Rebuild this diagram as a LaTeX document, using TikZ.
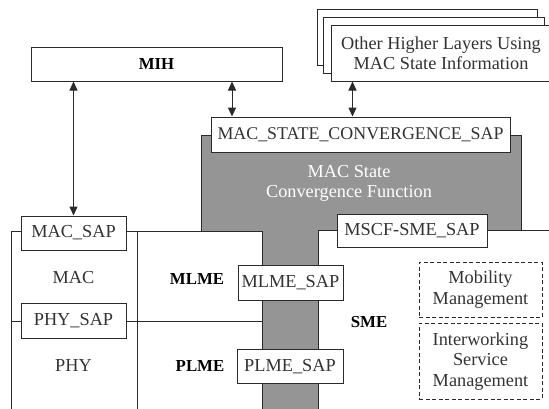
\documentclass[tikz,border=0pt]{standalone}
\usepackage{fontspec}
\setmainfont{Liberation Serif}
\usetikzlibrary{arrows.meta}
\definecolor{gfill}{HTML}{959595}
\definecolor{lncol}{HTML}{2A2A2A}
\definecolor{txcol}{HTML}{333333}
\begin{document}
\begin{tikzpicture}[x=1pt,y=-1pt,
  edge/.style={draw=lncol,line width=1pt},
  box/.style={draw=lncol,line width=1pt,fill=white,inner sep=0pt,text=txcol,font=\fontsize{18.3}{20}\selectfont},
  dbox/.style={draw=lncol,line width=0.9pt,dash pattern=on 4pt off 2.5pt,inner sep=0pt,text=txcol,align=center,font=\fontsize{18.3}{20.5}\selectfont},
  lbl/.style={text=txcol,font=\fontsize{18.3}{20}\selectfont},
  blbl/.style={text=black,font=\bfseries\fontsize{16.8}{20}\selectfont},
  arr/.style={draw=lncol,line width=1pt,{Triangle[length=9pt,width=8pt]}-{Triangle[length=9pt,width=8pt]}}
]
\useasboundingbox (0,0) rectangle (549,408);

% gray MAC State Convergence Function shape
\fill[gfill] (201,135) -- (521,135) -- (521,230) -- (318,230) -- (318,410) -- (262,410) -- (262,231) -- (201,231) -- cycle;
\draw[edge] (262,410) -- (262,231) -- (201,231) -- (201,135) -- (521,135) -- (521,230) -- (318,230) -- (318,410);
\node[text=white,align=center,font=\fontsize{18.3}{20}\selectfont] (mscf) at (349,183) {MAC State\\Convergence Function};

% left layer outlines
\draw[edge] (11,410) -- (11,231) -- (201,231);
\draw[edge] (137,231) -- (137,410);
\draw[edge] (11,321) -- (262,321);
\draw[edge] (521,230) -- (551,230);

% top boxes
\node[box,minimum width=251pt,minimum height=34pt,text=black,font=\bfseries\fontsize{16.8}{20}\selectfont] (mih) at (156.5,64) {MIH};
\draw[box] (317,9.5) rectangle (537.5,65);
\draw[box] (323.5,17.5) rectangle (544,73);
\node[box,minimum width=220pt,minimum height=56pt,align=center] (other) at (441,53) {Other Higher Layers Using\\MAC State Information};

% SAP boxes
\node[box,minimum width=299pt,minimum height=35pt,font=\fontsize{17.9}{20}\selectfont] (conv) at (360.5,134.5) {MAC\_STATE\_CONVERGENCE\_SAP};
\node[box,minimum width=105pt,minimum height=34pt] (macsap) at (73.5,233) {MAC\_SAP};
\node[box,minimum width=105pt,minimum height=35pt] (physap) at (73.5,321) {PHY\_SAP};
\node[box,minimum width=105pt,minimum height=35pt] (mlmesap) at (290.5,282.5) {MLME\_SAP};
\node[box,minimum width=106pt,minimum height=34.5pt] (plmesap) at (290,366.7) {PLME\_SAP};
\node[box,minimum width=150pt,minimum height=33pt] (smesap) at (412,230.5) {MSCF-SME\_SAP};

% layer labels
\node[lbl] (mac) at (73.5,278) {MAC};
\node[lbl] (phy) at (73.5,366) {PHY};
\node[blbl] (mlme) at (197,279) {MLME};
\node[blbl] (plme) at (200,366) {PLME};
\node[blbl] (sme) at (369,322) {SME};

% dashed SME functions
\node[dbox,minimum width=123pt,minimum height=55pt] (mob) at (480.5,289.5) {Mobility\\Management};
\node[dbox,minimum width=123pt,minimum height=75.5pt] (isv) at (480.5,361.2) {Interworking\\Service\\Management};

% arrows
\draw[arr] (macsap.north) -- (macsap.north |- mih.south);
\coordinate (c1) at ([xshift=21.5pt]conv.north west);
\draw[arr] (c1) -- (c1 |- mih.south);
\coordinate (c2) at ([xshift=22pt]other.south west);
\draw[arr] (c2) -- (c2 |- conv.north);
\end{tikzpicture}
\end{document}
